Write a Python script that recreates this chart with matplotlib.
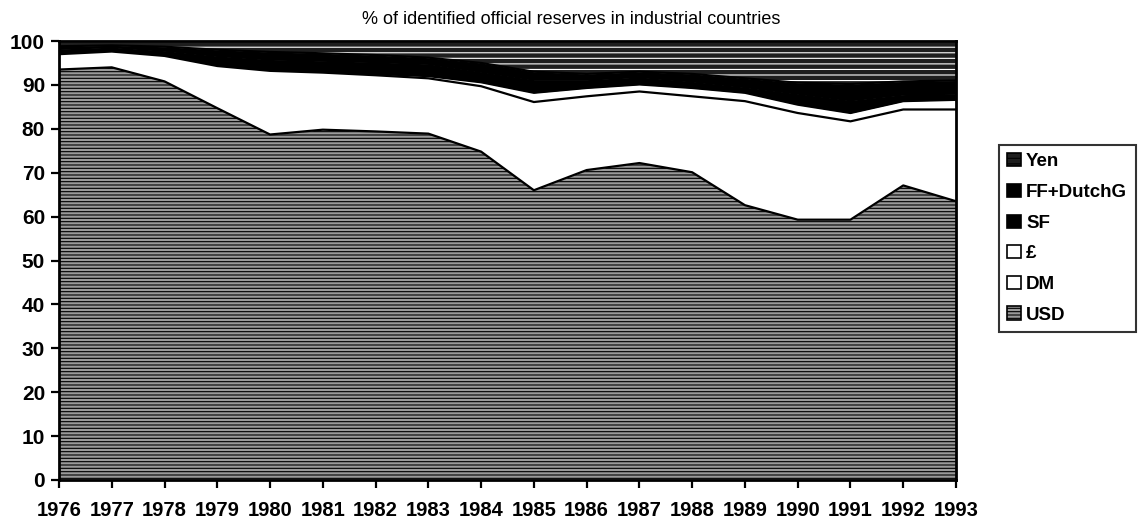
import numpy as np
import matplotlib.pyplot as plt
from matplotlib.patches import Patch

plt.rcParams['font.family'] = ['Liberation Sans', 'DejaVu Sans']
plt.rcParams['hatch.linewidth'] = 0.8

years = [1976, 1977, 1978, 1979, 1980, 1981, 1982, 1983, 1984,
         1985, 1986, 1987, 1988, 1989, 1990, 1991, 1992, 1993]

# shares in %
usd = [93.5, 94.0, 90.8, 84.7, 78.7, 79.8, 79.4, 78.9, 74.8,
       66.0, 70.6, 72.2, 70.1, 62.6, 59.3, 59.3, 67.1, 63.5]
dm = [3.5, 3.6, 5.8, 9.6, 14.5, 13.0, 12.8, 12.6, 14.9,
      20.1, 16.8, 16.3, 17.3, 23.7, 24.3, 22.4, 17.3, 20.9]
gbp = [0.3, 0.3, 0.3, 0.3, 0.3, 0.3, 0.3, 0.5, 0.9,
       2.1, 1.9, 1.6, 1.9, 1.9, 1.9, 1.9, 1.9, 2.2]
sf = [0.9, 0.7, 0.9, 2.0, 2.3, 2.4, 2.7, 2.8, 2.4,
      3.0, 1.9, 1.7, 1.5, 1.3, 2.5, 2.9, 1.5, 1.4]
ff_dg = [0.6, 0.4, 0.9, 1.4, 1.7, 1.7, 1.6, 1.4, 2.0,
         1.8, 1.3, 1.2, 1.7, 2.0, 2.5, 3.7, 3.0, 3.0]
yen = [1.2, 1.0, 1.3, 2.0, 2.5, 2.8, 3.2, 3.8, 5.0,
       7.0, 7.5, 7.0, 7.5, 8.5, 9.5, 9.8, 9.2, 9.0]

names = ['USD', 'DM', '£', 'SF', 'FF+DutchG', 'Yen']
series = [usd, dm, gbp, sf, ff_dg, yen]
faces = ['#9a9a9a', 'white', 'white', 'black', 'black', '#1e1e1e']
hatches = ['-----', None, None, None, None, '---']
hatch_cols = ['black', 'white', 'white', 'black', 'black', 'white']

fig = plt.figure(figsize=(11.43, 5.21), dpi=100)
ax = fig.add_axes([0.0516, 0.0787, 0.7848, 0.8426])

polys = ax.stackplot(years, *series, colors=faces, linewidth=0)
for p, h, hc in zip(polys, hatches, hatch_cols):
    p.set_edgecolor(hc)
    p.set_linewidth(0)
    if h:
        p.set_hatch(h)

tops = np.cumsum(np.array(series), axis=0)
for t in tops[:-1]:
    ax.plot(years, t, color='black', lw=1.6)

ax.set_xlim(years[0], years[-1])
ax.set_ylim(0, 100)
ax.set_yticks(range(0, 101, 10))
ax.set_xticks(years)
ax.set_xticklabels([str(y) for y in years], fontweight='bold', fontsize=14.5)
for lab in ax.get_yticklabels():
    lab.set_fontweight('bold')
    lab.set_fontsize(15)
ax.tick_params(axis='both', direction='out', length=6, width=1.6, color='black')
ax.tick_params(axis='x', pad=9)
ax.tick_params(axis='y', pad=4)
for s in ax.spines.values():
    s.set_linewidth(2)
    s.set_color('black')

fig.text(0.5, 0.963, '% of identified official reserves in industrial countries',
         ha='center', va='center', fontsize=13)

handles = [Patch(facecolor=f, edgecolor='black', hatch=h, linewidth=1.2)
           for f, h in zip(faces, hatches)]
leg = fig.legend(handles[::-1], names[::-1], loc='upper left',
                 bbox_to_anchor=(0.874, 0.722), frameon=True, fancybox=False,
                 edgecolor='black', prop={'weight': 'bold', 'size': 13.5},
                 handlelength=0.7, handleheight=0.7, handletextpad=0.3,
                 labelspacing=0.72, borderpad=0.45, borderaxespad=0)
leg.get_frame().set_linewidth(1.5)

fig.savefig('out.png', dpi=100)
